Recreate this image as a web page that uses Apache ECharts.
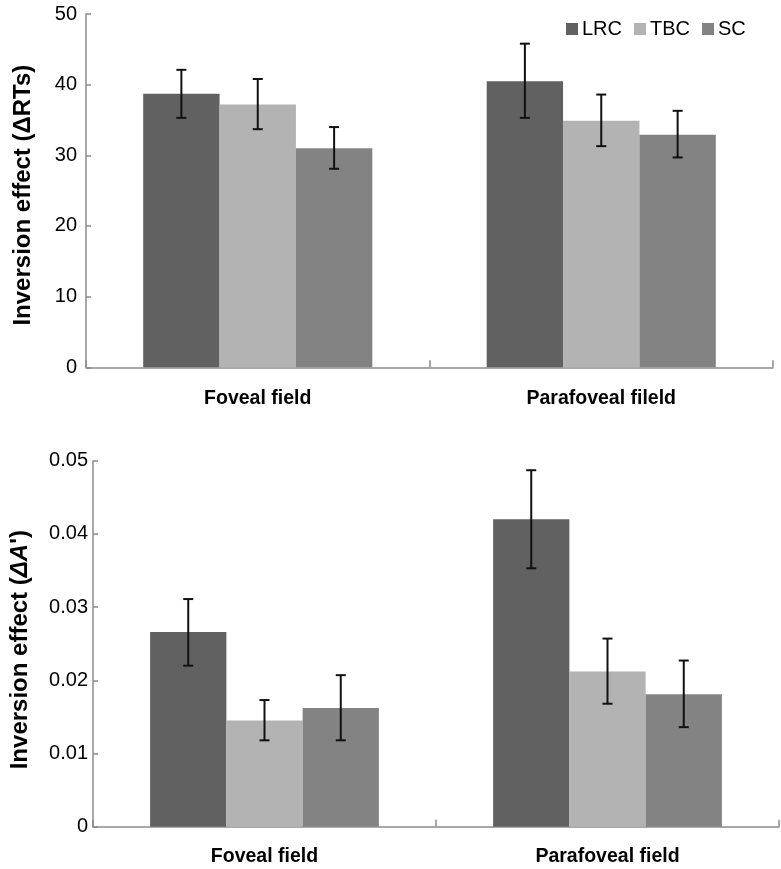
<!DOCTYPE html>
<html>
<head>
<meta charset="utf-8">
<script src="https://cdn.jsdelivr.net/npm/echarts@6/dist/echarts.min.js"></script>
<style>
html,body{margin:0;padding:0;background:#fff;}
#chart{width:781px;height:869px;}
</style>
</head>
<body>
<div id="chart"></div>
<script>
var categoriesTop = ['Foveal field', 'Parafoveal fileld'];
var categoriesBottom = ['Foveal field', 'Parafoveal field'];
var seriesNames = ['LRC', 'TBC', 'SC'];
var seriesColors = ['#616161', '#b3b3b3', '#838383'];

// Top panel: Inversion effect (ΔRTs)
var rtLRC = [38.7, 40.5];
var rtTBC = [37.2, 34.9];
var rtSC = [31.0, 32.9];
var rtLRCErrLow = [35.3, 35.3];
var rtLRCErrHigh = [42.1, 45.8];
var rtTBCErrLow = [33.7, 31.3];
var rtTBCErrHigh = [40.8, 38.6];
var rtSCErrLow = [28.1, 29.7];
var rtSCErrHigh = [34.0, 36.3];
var rtTicks = [0, 10, 20, 30, 40, 50];

// Bottom panel: Inversion effect (ΔA')
var aLRC = [0.0266, 0.0420];
var aTBC = [0.0145, 0.0212];
var aSC = [0.0162, 0.0181];
var aLRCErrLow = [0.0220, 0.0353];
var aLRCErrHigh = [0.0311, 0.0487];
var aTBCErrLow = [0.0118, 0.0168];
var aTBCErrHigh = [0.0173, 0.0257];
var aSCErrLow = [0.0118, 0.0136];
var aSCErrHigh = [0.0207, 0.0227];
var aTicks = [0, 0.01, 0.02, 0.03, 0.04, 0.05];

var FONT = 'Liberation Sans, Arial, sans-serif';
var CAT_GAP = 0.333;
var axisGray = '#8c8c8c';

function errSeries(gridIdx, seriesIdx, low, high) {
  var data = low.map(function (l, i) { return [i, l, high[i]]; });
  return {
    type: 'custom',
    xAxisIndex: gridIdx,
    yAxisIndex: gridIdx,
    z: 10,
    silent: true,
    data: data,
    renderItem: function (params, api) {
      var band = api.size([1, 0])[0];
      var bw = band * (1 - CAT_GAP) / 3;
      var off = (seriesIdx - 1) * bw;
      var p1 = api.coord([api.value(0), api.value(1)]);
      var p2 = api.coord([api.value(0), api.value(2)]);
      var x = p1[0] + off;
      var cap = 5;
      var st = { stroke: '#111', lineWidth: 2 };
      return {
        type: 'group',
        children: [
          { type: 'line', shape: { x1: x, y1: p1[1], x2: x, y2: p2[1] }, style: st },
          { type: 'line', shape: { x1: x - cap, y1: p1[1], x2: x + cap, y2: p1[1] }, style: st },
          { type: 'line', shape: { x1: x - cap, y1: p2[1], x2: x + cap, y2: p2[1] }, style: st }
        ]
      };
    }
  };
}

function barSeries(gridIdx, idx, data) {
  return {
    name: seriesNames[idx],
    type: 'bar',
    xAxisIndex: gridIdx,
    yAxisIndex: gridIdx,
    data: data,
    barGap: 0,
    barCategoryGap: (CAT_GAP * 100) + '%',
    itemStyle: { color: seriesColors[idx] },
    silent: true
  };
}

function xAxisDef(gridIdx, cats, margin) {
  return {
    type: 'category',
    gridIndex: gridIdx,
    data: cats,
    boundaryGap: true,
    axisLine: { show: true, lineStyle: { color: axisGray, width: 1.5 } },
    axisTick: { show: true, inside: true, length: 7, lineStyle: { color: axisGray, width: 1.5 } },
    axisLabel: { color: '#000', fontFamily: FONT, fontWeight: 'bold', fontSize: 19.5, margin: margin },
    splitLine: { show: false }
  };
}

function yAxisDef(gridIdx, ticks, name, nameGap, margin, fmt, shiftPad, rich) {
  var ax = {
    type: 'value',
    gridIndex: gridIdx,
    min: ticks[0],
    max: ticks[ticks.length - 1],
    interval: ticks[1] - ticks[0],
    name: name,
    nameLocation: 'middle',
    nameGap: nameGap,
    nameTextStyle: { color: '#000', fontFamily: FONT, fontWeight: 'bold', fontSize: 24, padding: [0, shiftPad, 0, 0] },
    axisLine: { show: true, lineStyle: { color: axisGray, width: 1.5 } },
    axisTick: { show: true, inside: true, length: 5, lineStyle: { color: axisGray, width: 1.5 } },
    axisLabel: { color: '#000', fontFamily: FONT, fontSize: 20, margin: margin, formatter: fmt },
    splitLine: { show: false }
  };
  if (rich) ax.nameTextStyle.rich = rich;
  return ax;
}

var chart = echarts.init(document.getElementById('chart'), null, { renderer: 'canvas' });
var option = {
  animation: false,
  backgroundColor: '#fff',
  legend: {
    data: seriesNames,
    left: 561,
    top: 14,
    itemWidth: 12,
    itemHeight: 12,
    itemGap: 12,
    icon: 'rect',
    textStyle: { color: '#000', fontFamily: FONT, fontSize: 20, padding: [0, 0, 0, -1] }
  },
  grid: [
    { left: 86, right: 8, top: 14, bottom: 501.7 },
    { left: 88.3, right: 2, top: 460.7, bottom: 42.3 }
  ],
  xAxis: [
    xAxisDef(0, categoriesTop, 21),
    xAxisDef(1, categoriesBottom, 20)
  ],
  yAxis: [
    yAxisDef(0, rtTicks, 'Inversion effect (ΔRTs)', 51, 9, function (v) { return String(v); }, 9),
    yAxisDef(1, aTicks, "{n|Inversion effect (}{i|ΔA}{n|')}", 61, 5,
      function (v) { return v === 0 ? '0' : v.toFixed(2); }, 12,
      {
        n: { fontFamily: FONT, fontWeight: 'bold', fontSize: 24, color: '#000' },
        i: { fontFamily: FONT, fontWeight: 'bold', fontStyle: 'italic', fontSize: 24, color: '#000' }
      })
  ],
  series: [
    barSeries(0, 0, rtLRC),
    barSeries(0, 1, rtTBC),
    barSeries(0, 2, rtSC),
    barSeries(1, 0, aLRC),
    barSeries(1, 1, aTBC),
    barSeries(1, 2, aSC),
    errSeries(0, 0, rtLRCErrLow, rtLRCErrHigh),
    errSeries(0, 1, rtTBCErrLow, rtTBCErrHigh),
    errSeries(0, 2, rtSCErrLow, rtSCErrHigh),
    errSeries(1, 0, aLRCErrLow, aLRCErrHigh),
    errSeries(1, 1, aTBCErrLow, aTBCErrHigh),
    errSeries(1, 2, aSCErrLow, aSCErrHigh)
  ]
};
chart.setOption(option);
</script>
</body>
</html>
